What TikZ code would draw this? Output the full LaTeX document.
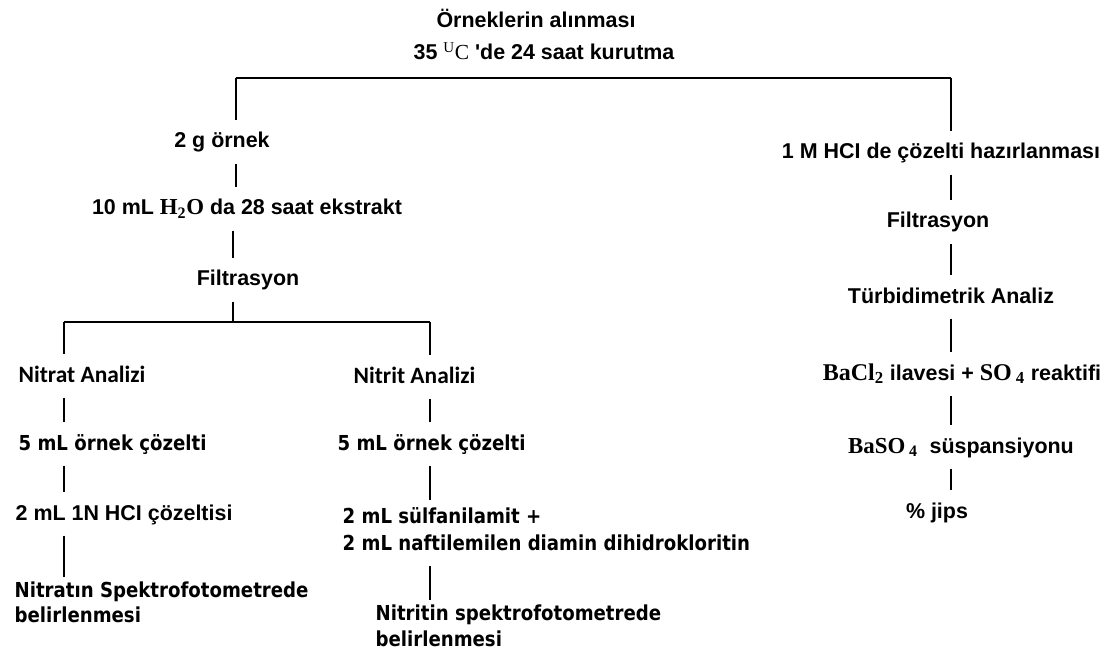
\documentclass[tikz,border=0pt]{standalone}
\usepackage{fontspec}
\setmainfont{Liberation Sans}
\newfontfamily\tahomaf{DejaVu Sans}[FakeStretch=0.88]
\newfontfamily\calibrif{Carlito}
\newfontfamily\timesf{Liberation Serif}
\usepackage{tikz}
\usetikzlibrary{calc}

\begin{document}
\begin{tikzpicture}[
  x=0.03cm, y=-0.03cm,
  line width=1.1pt,
  ar/.style={inner sep=0pt, anchor=base, text height=12.8pt, text depth=0pt,
             font=\fontsize{18.3}{22}\selectfont\bfseries},
  th/.style={inner sep=0pt, anchor=base west, text height=12.8pt, text depth=0pt,
             font=\tahomaf\fontsize{17.6}{22}\selectfont\bfseries},
  thm/.style={inner sep=0pt, anchor=north west, align=left,
              font=\tahomaf\fontsize{17.6}{22.9}\selectfont\bfseries},
  cb/.style={inner sep=0pt, anchor=base west, text height=12.8pt, text depth=0pt,
             font=\calibrif\fontsize{20}{24}\selectfont\bfseries},
  lnk/.style={shorten <=12.7pt, shorten >=10.2pt},
  drop/.style={shorten >=10.2pt},
  rise/.style={shorten <=12.7pt},
]
  \useasboundingbox (0,0) rectangle (1117,653);
  % start
  \node[ar] (title)  at (536,28) {Örneklerin alınması};
  \node[ar] (drying) at (544,60) {35 {\timesf\mdseries\textsuperscript{U}C} \textquotesingle de 24 saat kurutma};
  \coordinate (bar-l) at (236,78);
  \coordinate (bar-r) at (951,78);
  % water extract branch
  \node[ar] (gram)   at (222,148) {2 g örnek};
  \node[ar] (ext)    at (247,215) {10 mL {\timesf\fontsize{19.5}{22}\selectfont H\textsubscript{2}O} da 28 saat ekstrakt};
  \node[ar] (filt-l) at (248,286) {Filtrasyon};
  \coordinate (split-m) at (233,322);
  \coordinate (split-a) at (64,322);
  \coordinate (split-b) at (430,322);
  % nitrate
  \node[cb] (nitrat) at (18,382) {Nitrat Analizi};
  \node[th] (samp-a) at (18,450) {5 mL örnek çözelti};
  \node[ar, anchor=base west] (acid) at (15,520) {2 mL 1N HCI çözeltisi};
  \node[thm, font=\tahomaf\fontsize{17.6}{21.3}\selectfont\bfseries] (spek-a) at (14,581)
    {Nitratın Spektrofotometrede\\belirlenmesi};
  % nitrite
  \node[cb] (nitrit) at (353,383) {Nitrit Analizi};
  \node[th] (samp-b) at (337,450) {5 mL örnek çözelti};
  \node[thm] (sulf)   at (342,507) {2 mL sülfanilamit +\\2 mL naftilemilen diamin dihidrokloritin};
  \node[thm, font=\tahomaf\fontsize{17.6}{22}\selectfont\bfseries] (spek-b) at (375,604)
    {Nitritin spektrofotometrede\\belirlenmesi};
  % HCl branch
  \node[ar] (hcl)    at (941,159) {1 M HCI de çözelti hazırlanması};
  \node[ar] (filt-r) at (938,228) {Filtrasyon};
  \node[ar] (turb)   at (951,303) {Türbidimetrik Analiz};
  \node[ar] (bacl)   at (962,380) {{\timesf\fontsize{20.5}{22}\selectfont BaCl\textsubscript{2}} ilavesi + {\timesf\fontsize{20.5}{22}\selectfont SO\,\textsubscript{4}}\ reaktifi};
  \node[ar] (baso)   at (961,453) {{\timesf\fontsize{19.5}{22}\selectfont BaSO\,\textsubscript{4}}\ \ süspansiyonu};
  \node[ar] (jips)   at (937,518) {\% jips};
  % connectors
  \draw (bar-l) -- (bar-r);
  \draw[drop] (bar-l) -- (gram.north -| bar-l);
  \draw[lnk] (gram.south -| bar-l) -- (ext.north -| bar-l);
  \draw[lnk] (ext.south -| split-m) -- (filt-l.north -| split-m);
  \draw[rise] (filt-l.south -| split-m) -- (split-m);
  \draw (split-a) -- (split-b);
  \draw[drop] (split-a) -- (nitrat.north -| split-a);
  \draw[lnk] (nitrat.south -| split-a) -- (samp-a.north -| split-a);
  \draw[lnk] (samp-a.south -| split-a) -- (acid.north -| split-a);
  \draw[lnk, shorten >=3pt] (acid.south -| split-a) -- (spek-a.north -| split-a);
  \draw[drop] (split-b) -- (nitrit.north -| split-b);
  \draw[lnk] (nitrit.south -| split-b) -- (samp-b.north -| split-b);
  \draw[lnk, shorten >=6pt] (samp-b.south -| split-b) -- (sulf.north -| split-b);
  \draw[lnk, shorten >=3pt] (sulf.south -| split-b) -- (spek-b.north -| split-b);
  \draw[drop] (bar-r) -- (hcl.north -| bar-r);
  \draw[lnk] (hcl.south -| bar-r) -- (filt-r.north -| bar-r);
  \draw[lnk] (filt-r.south -| bar-r) -- (turb.north -| bar-r);
  \draw[lnk] (turb.south -| bar-r) -- (bacl.north -| bar-r);
  \draw[lnk] (bacl.south -| bar-r) -- (baso.north -| bar-r);
  \draw[lnk] (baso.south -| bar-r) -- (jips.north -| bar-r);
\end{tikzpicture}
\end{document}
